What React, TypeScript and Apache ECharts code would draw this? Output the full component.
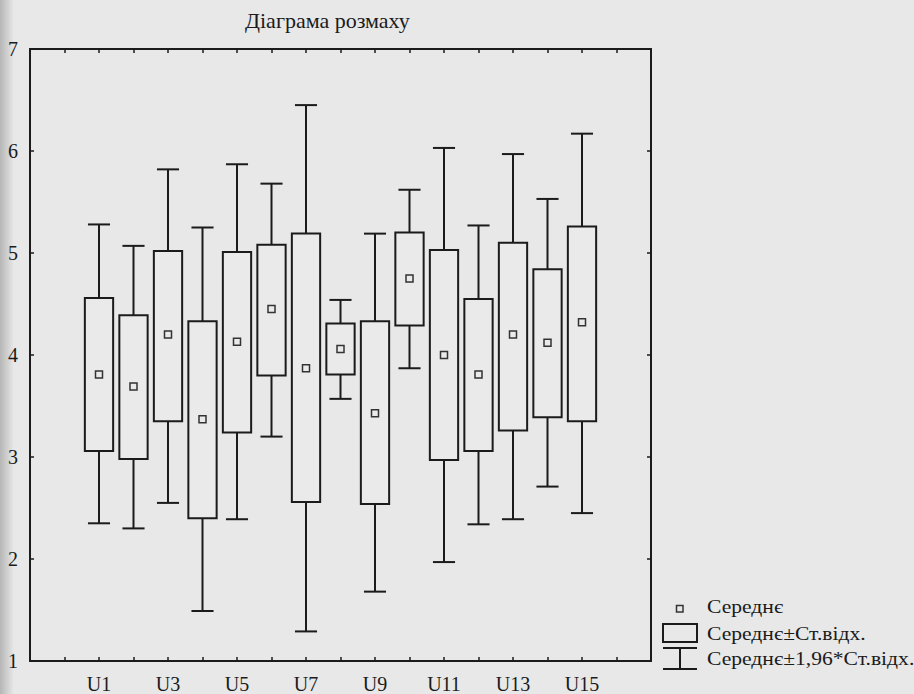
import React, { useEffect, useRef } from "react";
import * as echarts from "echarts";

const categories = ["U1","U2","U3","U4","U5","U6","U7","U8","U9","U10","U11","U12","U13","U14","U15"];
const means = [3.81, 3.69, 4.20, 3.37, 4.13, 4.45, 3.87, 4.06, 3.43, 4.75, 4.00, 3.81, 4.20, 4.12, 4.32];
const boxLow = [3.06, 2.98, 3.35, 2.40, 3.24, 3.80, 2.56, 3.81, 2.54, 4.29, 2.97, 3.06, 3.26, 3.39, 3.35];
const boxHigh = [4.56, 4.39, 5.02, 4.33, 5.01, 5.08, 5.19, 4.31, 4.33, 5.20, 5.03, 4.55, 5.10, 4.84, 5.26];
const whiskerLow = [2.35, 2.30, 2.55, 1.49, 2.39, 3.20, 1.29, 3.57, 1.68, 3.87, 1.97, 2.34, 2.39, 2.71, 2.45];
const whiskerHigh = [5.28, 5.07, 5.82, 5.25, 5.87, 5.68, 6.45, 4.54, 5.19, 5.62, 6.03, 5.27, 5.97, 5.53, 6.17];
const yTicks = [1, 2, 3, 4, 5, 6, 7];
const title = "Діаграма розмаху";
const legendLabels = ["Середнє", "Середнє±Ст.відх.", "Середнє±1,96*Ст.відх."];

const INK = "#1b1b1b";
const BG = "#e8e8e8";
const FONT = "'Liberation Serif', 'DejaVu Serif', serif";

export default function App() {
  const ref = useRef<HTMLDivElement>(null);
  useEffect(() => {
    if (!ref.current) return;
    const chart = echarts.init(ref.current, undefined, { renderer: "svg" });
    const data = categories.map((c, i) => [i + 1, whiskerLow[i], boxLow[i], means[i], boxHigh[i], whiskerHigh[i]]);
    const catByPos: Record<number, string> = {};
    categories.forEach((c, i) => { catByPos[i + 1] = c; });
    const axisCommon = {
      axisLine: { show: true, onZero: false, lineStyle: { color: INK, width: 2 } },
      axisTick: { show: true, inside: true, length: 4, lineStyle: { color: INK, width: 1.5 } },
      splitLine: { show: false },
    };
    const legendFont = `18px ${FONT}`;
    const option: any = {
      animation: false,
      backgroundColor: BG,
      grid: { left: 30, top: 49, width: 621, height: 613 },
      xAxis: [
        {
          type: "value", min: -1, max: 17, interval: 1, position: "bottom",
          ...axisCommon,
          axisLabel: {
            margin: 13, fontFamily: FONT, fontSize: 20, color: INK,
            formatter: (v: number) => (v % 2 === 1 && catByPos[v] ? catByPos[v] : ""),
          },
        },
        {
          type: "value", min: -1, max: 17, interval: 1, position: "top",
          ...axisCommon, axisLabel: { show: false },
        },
      ],
      yAxis: [
        {
          type: "value", min: yTicks[0], max: yTicks[yTicks.length - 1], interval: 1, position: "left",
          ...axisCommon,
          axisLabel: { margin: 12, fontFamily: FONT, fontSize: 20, color: INK },
        },
        {
          type: "value", min: yTicks[0], max: yTicks[yTicks.length - 1], interval: 1, position: "right",
          ...axisCommon, axisLabel: { show: false },
        },
      ],
      series: [
        {
          type: "custom",
          xAxisIndex: 0,
          yAxisIndex: 0,
          data,
          encode: { x: 0, y: [1, 2, 3, 4, 5] },
          renderItem: (params: any, api: any) => {
            const x = api.value(0);
            const pLo = api.coord([x, api.value(1)]);
            const pBL = api.coord([x, api.value(2)]);
            const pM = api.coord([x, api.value(3)]);
            const pBH = api.coord([x, api.value(4)]);
            const pHi = api.coord([x, api.value(5)]);
            const step = api.size([1, 0])[0];
            const bw = step * 0.82;
            const cw = step * 0.64;
            const cx = pM[0];
            const ls = { stroke: INK, lineWidth: 2 };
            return {
              type: "group",
              children: [
                { type: "line", shape: { x1: cx, y1: pLo[1], x2: cx, y2: pBL[1] }, style: ls },
                { type: "line", shape: { x1: cx, y1: pBH[1], x2: cx, y2: pHi[1] }, style: ls },
                { type: "line", shape: { x1: cx - cw / 2, y1: pLo[1], x2: cx + cw / 2, y2: pLo[1] }, style: ls },
                { type: "line", shape: { x1: cx - cw / 2, y1: pHi[1], x2: cx + cw / 2, y2: pHi[1] }, style: ls },
                {
                  type: "rect",
                  shape: { x: cx - bw / 2, y: pBH[1], width: bw, height: pBL[1] - pBH[1] },
                  style: { fill: "#eaeaea", stroke: INK, lineWidth: 2 },
                },
                {
                  type: "rect",
                  shape: { x: cx - 3.5, y: pM[1] - 3.5, width: 7, height: 7 },
                  style: { fill: "none", stroke: "#333", lineWidth: 1.5 },
                },
              ],
            };
          },
        },
      ],
      graphic: [
        {
          type: "rect", left: 0, top: 0, z: -1, silent: true,
          shape: { width: 14, height: 694 },
          style: {
            fill: new echarts.graphic.LinearGradient(0, 0, 1, 0, [
              { offset: 0, color: "rgba(120,120,120,0.45)" },
              { offset: 1, color: "rgba(120,120,120,0)" },
            ]),
          },
        },
        {
          type: "text", x: 245, y: 9,
          style: { text: title, font: `22px ${FONT}`, fill: INK, verticalAlign: "top" },
        },
        { type: "rect", shape: { x: 676.5, y: 605.5, width: 6.5, height: 6.5 }, style: { fill: "none", stroke: "#333", lineWidth: 1.5 } },
        { type: "rect", shape: { x: 663, y: 624, width: 34, height: 18 }, style: { fill: "none", stroke: INK, lineWidth: 2 } },
        { type: "line", shape: { x1: 663, y1: 648, x2: 697, y2: 648 }, style: { stroke: INK, lineWidth: 2 } },
        { type: "line", shape: { x1: 680, y1: 648, x2: 680, y2: 669 }, style: { stroke: INK, lineWidth: 2 } },
        { type: "line", shape: { x1: 663, y1: 669, x2: 697, y2: 669 }, style: { stroke: INK, lineWidth: 2 } },
        { type: "text", x: 707, y: 598, scaleX: 1.2, style: { text: legendLabels[0], font: legendFont, fill: INK, verticalAlign: "top" } },
        { type: "text", x: 707, y: 625, scaleX: 1.2, style: { text: legendLabels[1], font: legendFont, fill: INK, verticalAlign: "top" } },
        { type: "text", x: 707, y: 650, scaleX: 1.2, style: { text: legendLabels[2], font: legendFont, fill: INK, verticalAlign: "top" } },
      ],
    };
    chart.setOption(option);
    return () => chart.dispose();
  }, []);
  return <div ref={ref} style={{ position: "absolute", left: 0, top: 0, width: 914, height: 694 }} />;
}
